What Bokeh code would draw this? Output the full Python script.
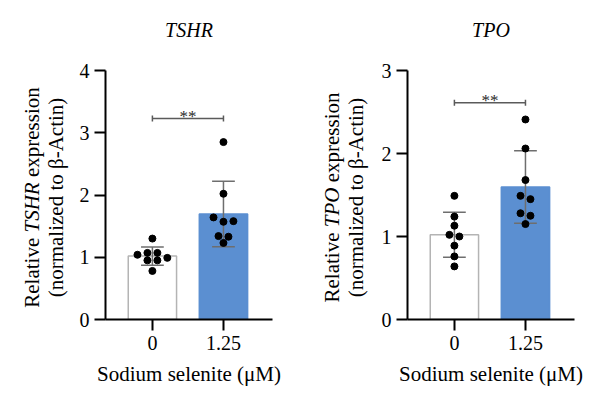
import math

import numpy as np
from bokeh.embed import file_html
from bokeh.layouts import row
from bokeh.models import FixedTicker, Label, Range1d
from bokeh.plotting import figure
from bokeh.resources import INLINE

# ---- data -------------------------------------------------------------
genes = ["TSHR", "TPO"]
doses = ["0", "1.25"]                  # sodium selenite, µM
y_max = [4, 3]
y_ticks = [[0, 1, 2, 3, 4], [0, 1, 2, 3]]

tshr_control = [1.04, 1.07, 1.07, 0.99, 1.30, 0.95, 0.95, 0.78]
tshr_selenite = [2.85, 2.02, 1.64, 1.57, 1.58, 1.34, 1.33, 1.23]
tpo_control = [1.49, 1.24, 1.13, 1.02, 1.00, 0.89, 0.76, 0.64]
tpo_selenite = [2.41, 2.06, 1.68, 1.49, 1.45, 1.28, 1.25, 1.15]

groups = [[tshr_control, tshr_selenite], [tpo_control, tpo_selenite]]
sig_height = [3.23, 2.61]
sig_text = ["**", "**"]

# ---- style ------------------------------------------------------------
SERIF = "Liberation Serif"
BAR_FILL = ["#ffffff", "#5b8fd1"]
BAR_LINE = ["#b4b4b4", "#5b8fd1"]
ERR_COLOR = "#6e6e6e"
BRACKET_COLOR = "#5a5a5a"

H = 410
LABEL_W = 70                # strip that holds the rotated y-axis title
PANEL_W = 300
TOP = 5                     # frame top (canvas px); the axis itself starts lower
AXIS_TOP, AXIS_BOTTOM = 70, 319
FRAME_W = 167
FRAME_LEFT = [105, 107]     # frame left edge within each 300 px half
X_START, X_END = -0.66, 1.69
BAR_W = 0.68
CAP_W = 0.32
DOT_STEP = 0.14            # horizontal spacing of dots sharing a row
BIN_H = [0.12, 0.10]       # row height used to spread overlapping dots
FS = 20                    # tick labels and panel titles
LFS = 21                   # axis titles


def swarm_offsets(vals, bin_h, step):
    rows = {}
    for i, v in enumerate(vals):
        rows.setdefault(math.floor(v / bin_h + 1e-6), []).append(i)
    off = [0.0] * len(vals)
    for members in rows.values():
        n = len(members)
        for k, i in enumerate(members):
            off[i] = (k - (n - 1) / 2) * step
    return off


def make_ylabel(i):
    """Narrow strip with the two-line rotated y title (gene name in italics)."""
    s = figure(width=LABEL_W, height=H, x_range=Range1d(0, LABEL_W),
               y_range=Range1d(AXIS_BOTTOM, TOP), output_backend="svg",
               toolbar_location=None, x_axis_type=None, y_axis_type=None,
               min_border_left=0, min_border_right=0,
               min_border_top=TOP, min_border_bottom=H - AXIS_BOTTOM)
    s.outline_line_color = None
    s.grid.visible = False
    s.border_fill_color = "white"
    s.background_fill_color = "white"

    gene_w = {"TSHR": 2.389, "TPO": 1.889}[genes[i]] * LFS
    rel_w, expr_w, sp = 3.333 * LFS, 4.277 * LFS, 0.25 * LFS
    total = rel_w + sp + gene_w + sp + expr_w
    cy = 197
    start = cy + total / 2                  # lower end of the rotated line
    gene_start = start - rel_w - sp
    expr_start = gene_start - gene_w - sp
    common = dict(angle=math.pi / 2, text_baseline="middle", text_font=SERIF,
                  text_font_size=f"{LFS}px", text_color="black")
    s.add_layout(Label(x=31, y=start, text="Relative", text_align="left", **common))
    s.add_layout(Label(x=31, y=gene_start, text=genes[i], text_align="left",
                       text_font_style="italic", **common))
    s.add_layout(Label(x=31, y=expr_start, text="expression", text_align="left",
                       **common))
    s.add_layout(Label(x=55, y=cy, text="(normalized to β-Actin)",
                       text_align="center", **common))
    return s


def make_panel(i):
    ymax = y_max[i]
    ppy = (AXIS_BOTTOM - AXIS_TOP) / ymax
    y_end = (AXIS_BOTTOM - TOP) / ppy
    left = FRAME_LEFT[i] - LABEL_W
    width = PANEL_W - LABEL_W
    p = figure(width=width, height=H,
               x_range=Range1d(X_START, X_END), y_range=Range1d(0, y_end),
               output_backend="svg", toolbar_location=None,
               min_border_left=left, min_border_right=width - left - FRAME_W,
               min_border_top=TOP, min_border_bottom=H - AXIS_BOTTOM)
    p.outline_line_color = None
    p.grid.visible = False
    p.background_fill_color = "white"
    p.border_fill_color = "white"

    def yd(py):
        return (AXIS_BOTTOM - py) / ppy

    # gene name above the panel
    p.add_layout(Label(x=(X_START + X_END) / 2, y=yd(29), text=genes[i],
                       text_align="center", text_baseline="middle",
                       text_font=SERIF, text_font_style="italic",
                       text_font_size=f"{FS}px", text_color="black"))

    xs = [0, 1]
    means, sds = [], []
    for vals in groups[i]:
        a = np.array(vals)
        means.append(float(a.mean()))
        sds.append(float(a.std(ddof=1)))

    # bars (mean)
    p.vbar(x=xs, top=means, width=BAR_W, bottom=0,
           fill_color=BAR_FILL, line_color=BAR_LINE, line_width=1.5)

    # mean ± SD
    lo = [m - s for m, s in zip(means, sds)]
    hi = [m + s for m, s in zip(means, sds)]
    p.segment(x0=xs, y0=lo, x1=xs, y1=hi, line_color=ERR_COLOR, line_width=1.5)
    p.segment(x0=[x - CAP_W / 2 for x in xs] * 2, y0=lo + hi,
              x1=[x + CAP_W / 2 for x in xs] * 2, y1=lo + hi,
              line_color=ERR_COLOR, line_width=1.5)

    # individual replicates
    for x, vals in zip(xs, groups[i]):
        off = swarm_offsets(vals, BIN_H[i], DOT_STEP)
        p.scatter(x=[x + o for o in off], y=vals, size=7,
                  fill_color="black", line_color="black")

    # significance bracket
    h = sig_height[i]
    cap = 3 / ppy
    p.segment(x0=[0], y0=[h], x1=[1], y1=[h], line_color=BRACKET_COLOR, line_width=1.5)
    p.segment(x0=[0, 1], y0=[h - cap] * 2, x1=[0, 1], y1=[h + cap] * 2,
              line_color=BRACKET_COLOR, line_width=1.5)
    p.add_layout(Label(x=0.5, y=h + 2 / ppy, text=sig_text[i], text_align="center",
                       text_baseline="alphabetic", text_font=SERIF,
                       text_font_size="17px", text_color="#2a2a2a"))

    # axes
    for ax in (p.xaxis[0], p.yaxis[0]):
        ax.axis_line_width = 2
        ax.axis_line_color = "black"
        ax.major_tick_line_width = 2
        ax.major_tick_line_color = "black"
        ax.major_tick_in = 0
        ax.major_tick_out = 11
        ax.minor_tick_line_color = None
        ax.major_label_text_font = SERIF
        ax.major_label_text_font_size = f"{FS}px"
        ax.major_label_text_color = "black"
        ax.major_label_standoff = 5
    p.yaxis.bounds = (0, ymax)
    p.yaxis.ticker = FixedTicker(ticks=y_ticks[i])
    p.xaxis.ticker = FixedTicker(ticks=xs)
    p.xaxis.major_label_overrides = {x: d for x, d in zip(xs, doses)}
    p.xaxis.axis_label = "Sodium selenite (μM)"
    p.xaxis.axis_label_text_font = SERIF
    p.xaxis.axis_label_text_font_size = f"{LFS}px"
    p.xaxis.axis_label_text_font_style = "normal"
    p.xaxis.axis_label_text_color = "black"
    p.xaxis.axis_label_standoff = 9
    return p


layout = row(make_ylabel(0), make_panel(0), make_ylabel(1), make_panel(1),
             spacing=0)
with open("out.html", "w") as f:
    f.write(file_html(layout, INLINE))
